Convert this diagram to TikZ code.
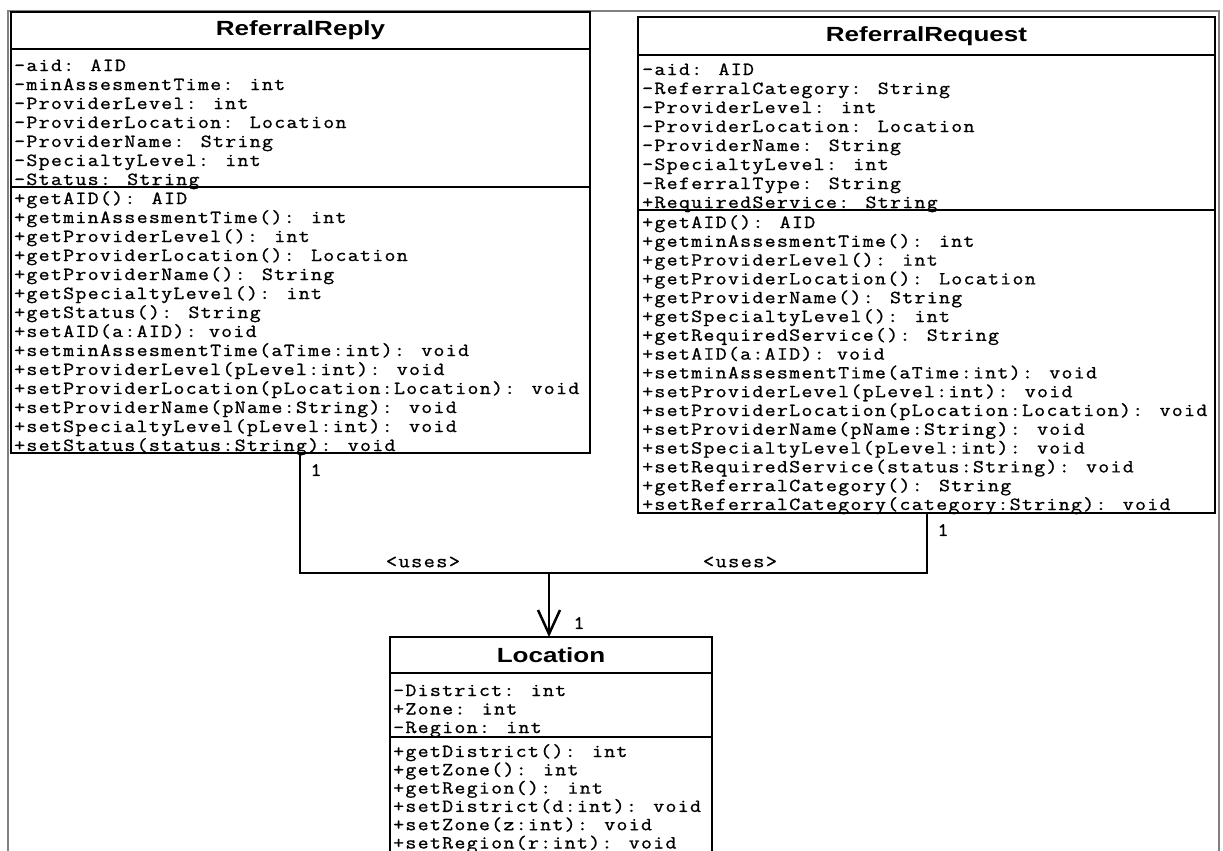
\documentclass[tikz,border=0pt]{standalone}
\usepackage{fontspec}
\usetikzlibrary{arrows.meta,calc}
\newfontfamily\umlmono[FakeStretch=1.15,LetterSpace=7,FakeBold=1]{Latin Modern Mono}
\newfontfamily\umltitle[FakeStretch=1.27]{Liberation Sans}
\begin{document}
\begin{tikzpicture}[x=1pt,y=-1pt,
  frame/.style={draw=black!50, line width=2pt},
  compart/.style={draw, line width=2.5pt, anchor=north west, outer sep=0pt, inner sep=0pt},
  classname/.style={compart, font=\umltitle\bfseries\fontsize{20.5}{24}\selectfont},
  member/.style={anchor=base west, inner sep=0pt, font=\umlmono\fontsize{18.5}{19}\selectfont},
  conn/.style={line width=2.5pt},
  mult/.style={inner sep=0pt, font=\umlmono\fontsize{19}{19}\selectfont}]

\clip (0,0) rectangle (1223,851);
\fill[white] (0,0) rectangle (1223,851);

% outer frame
\draw[frame] (8,860) -- (8,11) -- (1219,11) -- (1219,860);

% ---------- ReferralReply ----------
\foreach \t [count=\i from 0] in {-aid: AID, -minAssesmentTime: int, -ProviderLevel: int,
  -ProviderLocation: Location, -ProviderName: String, -SpecialtyLevel: int, -Status: String}
  \node[member] (rra\i) at (14,{71+19*\i}) {\t};
\foreach \t [count=\i from 0] in {+getAID(): AID, +getminAssesmentTime(): int,
  +getProviderLevel(): int, +getProviderLocation(): Location, +getProviderName(): String,
  +getSpecialtyLevel(): int, +getStatus(): String, +setAID(a:AID): void,
  +setminAssesmentTime(aTime:int): void, +setProviderLevel(pLevel:int): void,
  +setProviderLocation(pLocation:Location): void, +setProviderName(pName:String): void,
  +setSpecialtyLevel(pLevel:int): void, +setStatus(status:String): void}
  \node[member] (rrm\i) at (14,{204+19*\i}) {\t};
\node[classname, minimum width=579pt, minimum height=37pt] (rrH) at (11,12) {ReferralReply};
\node[compart, minimum width=579pt, minimum height=138pt] (rrA) at (11,49) {};
\node[compart, minimum width=579pt, minimum height=266pt] (rrM) at (11,187) {};

% ---------- ReferralRequest ----------
\foreach \t [count=\i from 0] in {-aid: AID, -ReferralCategory: String, -ProviderLevel: int,
  -ProviderLocation: Location, -ProviderName: String, -SpecialtyLevel: int,
  -ReferralType: String, +RequiredService: String}
  \node[member] (rqa\i) at (642,{75+19*\i}) {\t};
\foreach \t [count=\i from 0] in {+getAID(): AID, +getminAssesmentTime(): int,
  +getProviderLevel(): int, +getProviderLocation(): Location, +getProviderName(): String,
  +getSpecialtyLevel(): int, +getRequiredService(): String, +setAID(a:AID): void,
  +setminAssesmentTime(aTime:int): void, +setProviderLevel(pLevel:int): void,
  +setProviderLocation(pLocation:Location): void, +setProviderName(pName:String): void,
  +setSpecialtyLevel(pLevel:int): void, +setRequiredService(status:String): void,
  +getReferralCategory(): String, +setReferralCategory(category:String): void}
  \node[member] (rqm\i) at (642,{228+18.8*\i}) {\t};
\node[classname, minimum width=577pt, minimum height=38pt] (rqH) at (638,17) {ReferralRequest};
\node[compart, minimum width=577pt, minimum height=155pt] (rqA) at (638,55) {};
\node[compart, minimum width=577pt, minimum height=303pt] (rqM) at (638,210) {};

% ---------- Location ----------
\foreach \t [count=\i from 0] in {-District: int, +Zone: int, -Region: int}
  \node[member] (loa\i) at (393,{696+18.5*\i}) {\t};
\foreach \t [count=\i from 0] in {+getDistrict(): int, +getZone(): int, +getRegion(): int,
  +setDistrict(d:int): void, +setZone(z:int): void, +setRegion(r:int): void}
  \node[member] (lom\i) at (393,{757+18.3*\i}) {\t};
\node[classname, minimum width=322pt, minimum height=36pt] (locH) at (390,637) {Location};
\node[compart, minimum width=322pt, minimum height=64pt] (locA) at (390,673) {};
\node[compart, minimum width=322pt, minimum height=240pt] (locM) at (390,737) {};

% ---------- associations ----------
\coordinate (joint) at (549,573);
\draw[conn] ($(rrM.south west)+(289,0)$) |- (joint) -| ($(rqM.south west)+(289,0)$);
\draw[conn, -{Straight Barb[length=24pt,width=22pt]}] (joint) -- (locH.north -| joint);

\node[mult] (mrr) at (316,470) {1};
\node[mult] (mrq) at (943,530) {1};
\node[mult] (mlo) at (579,623) {1};
\node[mult] (urr) at (423,562) {<uses>};
\node[mult] (urq) at (740,562) {<uses>};
\end{tikzpicture}
\end{document}
